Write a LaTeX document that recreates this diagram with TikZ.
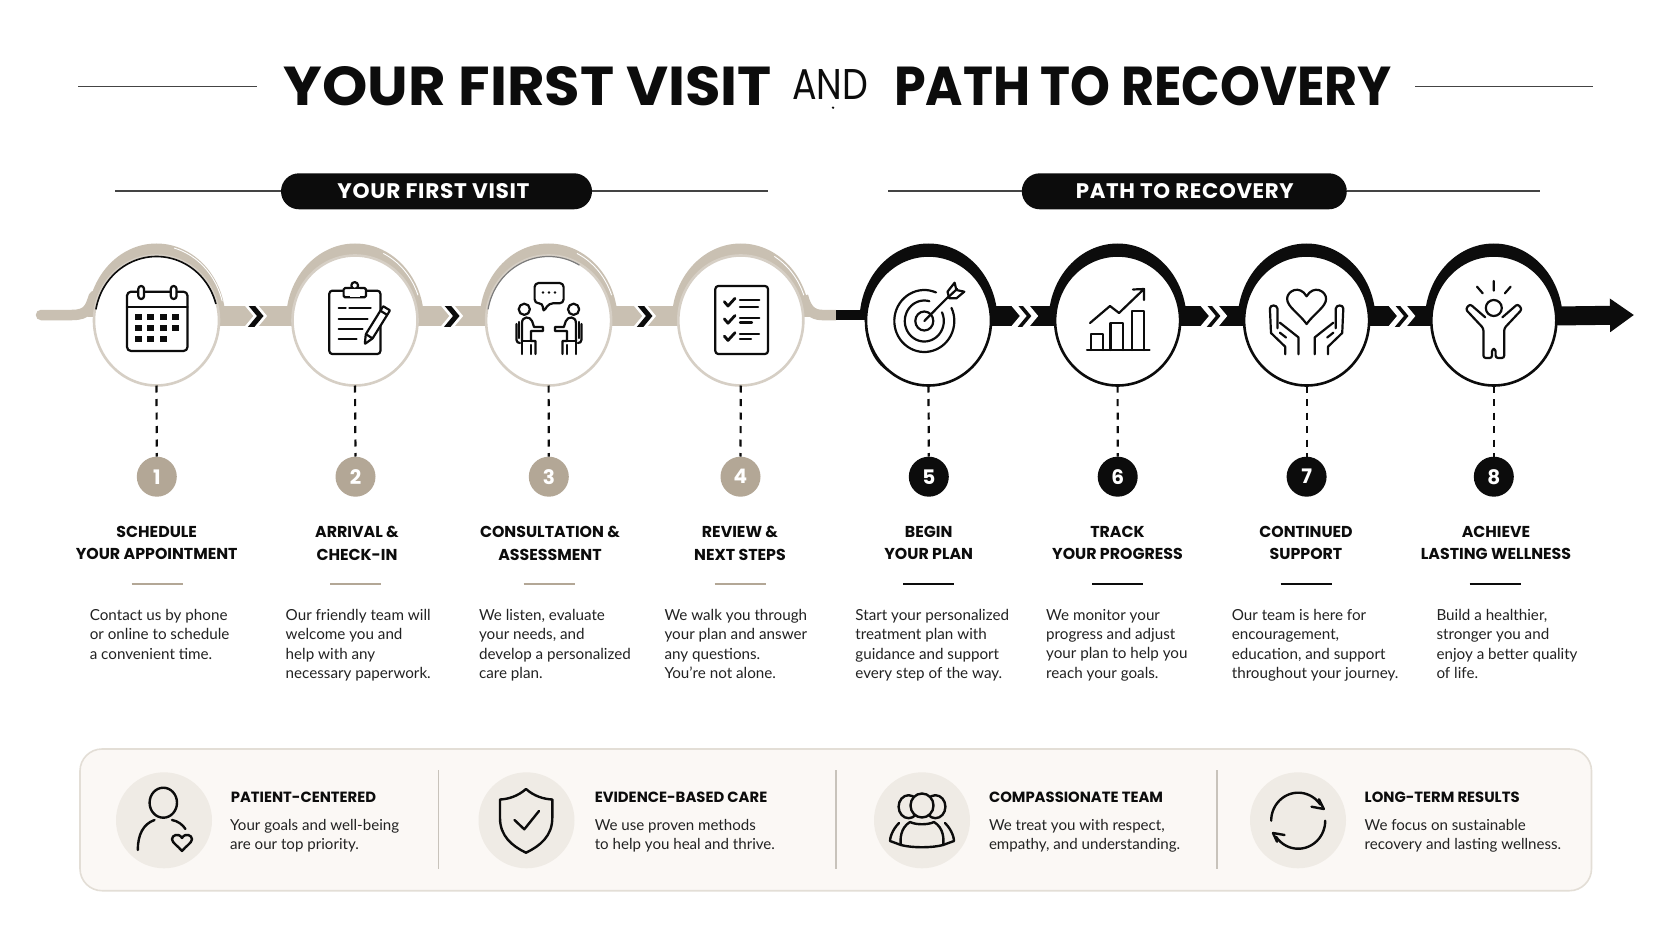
\documentclass[tikz,border=0pt]{standalone}
\usepackage{fontspec}
\usepackage{graphicx}
\setmainfont{Lato}
\newfontfamily\hd{Poppins}
\newfontfamily\hdp{Poppins}[LetterSpace=3]
\usetikzlibrary{shapes.geometric,calc,backgrounds,arrows.meta}
\definecolor{band}{HTML}{C9C0B2}
\definecolor{ring}{HTML}{D6CFC5}
\definecolor{numb}{HTML}{B3A796}
\definecolor{ink}{HTML}{0C0C0C}
\definecolor{txt}{HTML}{222222}
\definecolor{cream}{HTML}{FBF8F5}
\definecolor{creamedge}{HTML}{E3DED6}
\definecolor{icbg}{HTML}{EFEBE5}
\definecolor{divd}{HTML}{C8C3BB}
\definecolor{rule}{HTML}{444444}
\tikzset{
  x=1pt,y=-1pt,
  stepring/.style={ellipse,draw=#1,fill=white,line width=2.6pt,minimum width=125pt,minimum height=130pt,inner sep=0pt,outer sep=0pt},
  numdot/.style={circle,fill=#1,text=white,minimum size=40pt,inner sep=0pt,font=\hd\bfseries\fontsize{20}{20}\selectfont},
  dotline/.style={draw=ink,line width=2.2pt,dash pattern=on 7pt off 6.5pt},
  headtxt/.style={anchor=north,align=center,text=ink,font=\hd\bfseries\fontsize{15.8}{22.5}\selectfont,inner sep=0pt},
  bodytxt/.style={anchor=north west,align=left,text=txt,font=\fontsize{15.2}{19.3}\selectfont,inner sep=0pt},
  paneltitle/.style={anchor=west,text=ink,font=\hd\bfseries\fontsize{14.8}{16}\selectfont,inner sep=0pt},
  paneltxt/.style={anchor=north west,align=left,text=txt,font=\fontsize{15.1}{19.3}\selectfont,inner sep=0pt},
  icon/.style={draw=ink,line width=2.2pt,line join=round,line cap=round},
  picon/.style={draw=ink,line width=2.4pt,line join=round,line cap=round},
  pill/.style={rounded rectangle,fill=ink,text=white,inner sep=0pt},
  sectline/.style={draw=rule,line width=1.5pt},
  shortrule/.style={line width=2.5pt,draw=#1},
}
\usetikzlibrary{shapes.misc}
\newcommand\eearc[6]{plot[domain=#5:#6,samples=50] ({#1+#3*cos(\x)},{#2+#4*sin(\x)})}
\newcommand\heartat[5]{\draw[#5,shift={(#1,#2)},xscale=#3,yscale=#4]
 (0,.5) .. controls (-.2,.2) and (-.5,.02) .. (-.5,-.2) .. controls (-.5,-.42) and (-.18,-.6) .. (0,-.27)
 .. controls (.18,-.6) and (.5,-.42) .. (.5,-.2) .. controls (.5,.02) and (.2,.2) .. (0,.5) -- cycle;}
% band behind a step ring
\newcommand\bandat[2]{\begin{scope}\clip ($(#1)+(-90,-90)$) rectangle ($(#1)+(90,-4)$);
 \fill[#2] (#1.center) circle[x radius=69pt,y radius=77pt];\end{scope}}
% bar with chevrons between two rings: from, to, colour, white width, inner width, offset
\newcommand\barlink[6]{\draw[#3,line width=20pt] ([yshift=4.5pt]#1.east) -- ([yshift=4.5pt]#2.west);
 \coordinate (m#1) at ($(#1.east)!0.5!(#2.west)$);
 \begin{scope}\clip ($(m#1)+(-30,-14.5)$) rectangle ($(m#1)+(30,5.5)$);
 \draw[white,line width=#4pt,miter limit=6] ($(m#1)+(#6-12.5,-19.5)$) -- ($(m#1)+(#6,-4.5)$) -- ($(m#1)+(#6-12.5,10.5)$);
 \draw[ink,line width=#5pt,miter limit=6] ($(m#1)+(#6-12.5,-19.5)$) -- ($(m#1)+(#6,-4.5)$) -- ($(m#1)+(#6-12.5,10.5)$);
 \end{scope}}
\newcommand\conperson{%
 \draw[icon] (524.3,309.3) circle[radius=5.6pt];
 \draw[icon] (522,341) -- (522,323) .. controls (522,316) and (530,316) .. (532,321) -- (534,327) -- (543,327) -- (543,331) -- (531,331) -- (531,341) -- (535.5,341) -- (535.5,354);
 \draw[icon] (522,341) -- (531,341) (522,341) -- (522,354) (531,345) -- (531,354);
 \draw[icon] (516.5,324) -- (516.5,340) .. controls (516.5,342) and (518,343) .. (520,343);
 \draw[icon] (519,322) -- (519,338);
}
\newcommand\handicon{%
 \draw[icon] (1285.2,354.3) -- (1285.2,346.7) -- (1271,333) -- (1269.9,308.5) .. controls (1270,304.5) and (1277,304.5) .. (1277.4,308.5) -- (1277.4,328.3);
 \draw[icon] (1279.9,322.7) -- (1298.4,337.3) -- (1298.4,354.3);
 \draw[icon] (1279.9,332.7) -- (1286,337.5);
}
\begin{document}
\begin{tikzpicture}
\useasboundingbox (0,0) rectangle (1672,941);
% ---- nodes
\node[stepring=ring] (c1) at (156.5,320.5) {};
\node[stepring=ring] (c2) at (355,320.5) {};
\node[stepring=ring] (c3) at (548.6,320.5) {};
\node[stepring=ring] (c4) at (740.8,320.5) {};
\node[stepring=ink] (c5) at (928.5,320.5) {};
\node[stepring=ink] (c6) at (1117.6,320.5) {};
\node[stepring=ink] (c7) at (1306.6,320.5) {};
\node[stepring=ink] (c8) at (1493.8,320.5) {};
\node[numdot=numb] (n1) at (156.8,476.7) {1};
\node[numdot=numb] (n2) at (355.5,476.7) {2};
\node[numdot=numb] (n3) at (548.8,476.7) {3};
\node[numdot=numb] (n4) at (740.5,476.7) {4};
\node[numdot=ink] (n5) at (928.8,476.7) {5};
\node[numdot=ink] (n6) at (1117.7,476.7) {6};
\node[numdot=ink] (n7) at (1306.6,476.7) {7};
\node[numdot=ink] (n8) at (1493.8,476.7) {8};
\foreach \i in {1,...,8} \draw[dotline] (c\i.south) -- (n\i.north);
% ---- connectors behind the rings
\begin{scope}[on background layer]
\fill[white] (0,0) rectangle (1672,941);
\coordinate (tailA) at (41,315);
\coordinate (tailB) at (94,296);
\coordinate (joinA) at (803,296);
\coordinate (joinB) at (836,315);
\coordinate (tip) at (1634,315);
\draw[band,line width=10.5pt,line cap=round] (tailA) -- (72,315) .. controls (88,315) and (90,308) .. (tailB);
\draw[band,line width=10.5pt] (joinA) .. controls (806,309) and (812,315) .. (822,315) -- (joinB);
\draw[ink,line width=10.5pt] (joinB) -- (c5.west |- joinB);
\foreach \i in {1,2,3,4} {\bandat{c\i}{band}}
\foreach \i in {5,6,7,8} {\bandat{c\i}{ink}}
\fill[ink] (865,315) .. controls (864,340) and (872,362) .. (889,372) -- (900,360) -- (880,315) -- cycle;
\barlink{c1}{c2}{band}{10.5}{5}{4.5}
\barlink{c2}{c3}{band}{10.5}{5}{4.5}
\barlink{c3}{c4}{band}{10.5}{5}{4.5}
\barlink{c5}{c6}{ink}{14}{3.5}{6}
\barlink{c6}{c7}{ink}{14}{3.5}{6}
\barlink{c7}{c8}{ink}{14}{3.5}{6}
\draw[ink,line width=19pt,-{Triangle[length=24pt,width=32pt]}] ([yshift=4.5pt]c8.east) -- (tip);
% sketch streaks
\draw[white,line width=.9pt] \eearc{156.5}{320.5}{68}{75}{285}{345};
\draw[white,line width=.9pt] \eearc{355}{320.5}{67}{74}{295}{340};
\draw[white,line width=.9pt] \eearc{548.6}{320.5}{67}{74}{295}{340};
\draw[white,line width=.9pt] \eearc{740.8}{320.5}{67}{74}{300}{340};
\end{scope}
\draw[ink,line width=1.6pt] \eearc{156.5}{320.5}{61.5}{64}{190}{345};
\draw[rule!70,line width=1.2pt] \eearc{548.6}{320.5}{61.5}{64}{190}{300};
% ---- title
\draw[sectline] (78,86.7) -- (257,86.7);
\draw[sectline] (1415,86.7) -- (1593,86.7);
\node[inner sep=0pt,text=ink] (t1) at (528,86) {\resizebox{488pt}{39pt}{\hd\bfseries YOUR FIRST VISIT}};
\node[inner sep=0pt,text=ink] (t2) at (830,84.5) {\resizebox{76pt}{30pt}{\hd AND}};
\node[inner sep=0pt,text=ink] (t3) at (1143,86) {\resizebox{498pt}{39pt}{\hd\bfseries PATH TO RECOVERY}};
\fill[ink] (833,107.7) circle[radius=1.3pt];
% ---- section pills
\node[pill,minimum width=311pt,minimum height=36pt] (p1) at (436.5,191.3) {\hspace*{-6pt}\raisebox{-1.5pt}{\resizebox{192pt}{15pt}{\hdp\bfseries YOUR FIRST VISIT}}};
\node[pill,minimum width=325pt,minimum height=36pt] (p2) at (1184.3,191.3) {\hspace*{1pt}\raisebox{-1.5pt}{\resizebox{218pt}{15pt}{\hdp\bfseries PATH TO RECOVERY}}};
\coordinate (l1a) at (115,191); \coordinate (l1b) at (768,191);
\coordinate (l2a) at (888,191); \coordinate (l2b) at (1540,191);
\draw[sectline] (l1a) -- (p1.west |- l1a);
\draw[sectline] (p1.east |- l1b) -- (l1b);
\draw[sectline] (l2a) -- (p2.west |- l2a);
\draw[sectline] (p2.east |- l2b) -- (l2b);
% ---- calendar
\draw[icon,rounded corners=4pt] (127,291.7) rectangle (187.5,351);
\draw[icon] (127,306.7) -- (187.5,306.7);
\draw[icon,fill=white,rounded corners=2.8pt] (138.3,286) rectangle (144,299);
\draw[icon,fill=white,rounded corners=2.8pt] (170.8,286) rectangle (176.5,299);
\foreach \x in {138.6,150.7,163.2,175.7} \foreach \y in {316.7,328.3} \fill[ink] (\x-3.4,\y-3) rectangle (\x+3.4,\y+3);
\foreach \x in {138.6,150.7,163.2} \fill[ink] (\x-3.4,339-3) rectangle (\x+3.4,339+3);
% ---- clipboard
\draw[icon,rounded corners=3pt] (329.3,290.7) rectangle (380.4,354);
\draw[icon,fill=white,rounded corners=1.5pt] (343.6,288) rectangle (366,297.3);
\draw[icon,fill=white] (354.7,285.5) circle[radius=3.4pt];
\fill[white] (350,288.8) rectangle (360,296.5);
\draw[icon] (338.6,308.3) -- (345.7,308.3) (349.3,308.3) -- (370.7,308.3) (338.6,319) -- (367.5,319) (338.6,329.3) -- (362.5,329.3) (338.6,339.3) -- (356.5,339.3);
\draw[icon,fill=white,rounded corners=.6pt] (364.8,344) -- (365.8,334.2) -- (383.2,306.2) -- (390,310.4) -- (372.6,338.4) -- cycle;
\draw[icon] (380.5,310.8) -- (387,314.8) (366,334.2) -- (372.4,338.4);
% ---- consultation
\conperson
\begin{scope}[shift={(1097.9,0)},xscale=-1]\conperson\end{scope}
\draw[icon,fill=white,rounded corners=4pt] (534.6,283) -- (563.6,283) -- (563.6,303.3) -- (549,303.3) -- (543,312.5) -- (543,303.3) -- (534.6,303.3) -- cycle;
\foreach \x in {543,549,555} \fill[ink] (\x,292.5) circle[radius=1.4pt];
% ---- checklist
\draw[icon,rounded corners=3pt] (715.3,286) rectangle (768,354);
\foreach \d in {0,17.2,34.4} \draw[ink,line width=2.8pt,line cap=round,line join=round] (724.3,301.7+\d) -- (728,306+\d) -- (735,298.3+\d);
\draw[icon] (740,300) -- (759.3,300) (740,307.3) -- (758,307.3) (740,318.3) -- (759.3,318.3) (740,322.5) -- (752,322.5) (740,334) -- (759,334) (740,339.3) -- (751,339.3);
% ---- target
\draw[icon] \eearc{924.3}{321}{30}{31}{-25}{293};
\draw[icon] \eearc{924.3}{321}{19.5}{20.5}{-25}{285};
\draw[icon] (924.3,321) circle[x radius=9pt,y radius=9.5pt];
\draw[icon] (924.3,321) -- (952,293);
\draw[icon,fill=white] (947.5,291.7) -- (954.6,282.7) -- (956.4,290) -- (964.3,291.7) -- (956.4,298.3) -- (949.3,298.3) -- cycle;
\draw[icon] (949,296.5) -- (957,289);
% ---- chart
\draw[icon] (1087,350) -- (1149.5,350);
\draw[icon] (1091,350) -- (1091,334) -- (1103,334) -- (1103,350);
\draw[icon] (1110.5,350) -- (1110.5,323) -- (1123,323) -- (1123,350);
\draw[icon] (1131.6,350) -- (1131.6,310.7) -- (1144,310.7) -- (1144,350);
\draw[icon] (1090,323) -- (1110,306) -- (1119,313) -- (1144,289) (1133,289.5) -- (1144,289) -- (1144,300);
% ---- hands
\heartat{1306.6}{306}{39}{36}{icon}
\handicon
\begin{scope}[shift={(2613.2,0)},xscale=-1]\handicon\end{scope}
% ---- person with raised arms
\draw[icon] (1493.8,308) circle[radius=8pt];
\draw[icon] (1493.8,281) -- (1493.8,290.7) (1477,286.7) -- (1482.7,293.3) (1510.6,286.7) -- (1504.9,293.3);
\draw[icon,rounded corners=2.4pt] (1485.2,317.3) -- (1469.9,304) -- (1465.6,309.3) -- (1483.4,328.3) -- (1483.4,358) -- (1492,358) -- (1492,349) -- (1495.6,349) -- (1495.6,358) -- (1504.2,358) -- (1504.2,328.3) -- (1522,309.3) -- (1517.7,304) -- (1502.4,317.3);
% ---- step headings
\node[headtxt] (h1) at (156.7,526) {SCHEDULE\\YOUR APPOINTMENT};
\node[headtxt] (h2) at (357,526) {ARRIVAL \&\\CHECK-IN};
\node[headtxt] (h3) at (550,526) {CONSULTATION \&\\ASSESSMENT};
\node[headtxt] (h4) at (740,526) {REVIEW \&\\NEXT STEPS};
\node[headtxt] (h5) at (928.7,526) {BEGIN\\YOUR PLAN};
\node[headtxt] (h6) at (1117.5,526) {TRACK\\YOUR PROGRESS};
\node[headtxt] (h7) at (1306,526) {CONTINUED\\SUPPORT};
\node[headtxt] (h8) at (1496,526) {ACHIEVE\\LASTING WELLNESS};
\foreach \x in {157.2,355.6,549,740} \draw[shortrule=numb] (\x-25.5,584) -- (\x+25.5,584);
\foreach \x in {928.7,1117.5,1306,1495} \draw[shortrule=ink] (\x-25.5,584) -- (\x+25.5,584);
% ---- step bodies
\node[bodytxt] (b1) at (89.6,609) {Contact us by phone\\or online to schedule\\a convenient time.};
\node[bodytxt] (b2) at (285.5,609) {Our friendly team will\\welcome you and\\help with any\\necessary paperwork.};
\node[bodytxt] (b3) at (478.8,609) {We listen, evaluate\\your needs, and\\develop a personalized\\care plan.};
\node[bodytxt] (b4) at (664.3,609) {We walk you through\\your plan and answer\\any questions.\\You’re not alone.};
\node[bodytxt] (b5) at (855.2,609) {Start your personalized\\treatment plan with\\guidance and support\\every step of the way.};
\node[bodytxt] (b6) at (1046,609) {We monitor your\\progress and adjust\\your plan to help you\\reach your goals.};
\node[bodytxt] (b7) at (1231.6,609) {Our team is here for\\encouragement,\\education, and support\\throughout your journey.};
\node[bodytxt] (b8) at (1436.3,609) {Build a healthier,\\stronger you and\\enjoy a better quality\\of life.};
% ---- panel
\draw[creamedge,fill=cream,line width=1.6pt,rounded corners=22pt] (80,749) rectangle (1591.5,890.7);
\foreach \x in {164,526.5,922,1298} \fill[icbg] (\x,820.3) circle[radius=48pt];
\foreach \x in {438.4,836,1217} \draw[divd,line width=1.2pt] (\x,770) -- (\x,869);
\node[paneltitle] (q1) at (230.6,797.5) {PATIENT-CENTERED};
\node[paneltitle] (q2) at (594.6,797.5) {EVIDENCE-BASED CARE};
\node[paneltitle] (q3) at (988.8,797.5) {COMPASSIONATE TEAM};
\node[paneltitle] (q4) at (1364.5,797.5) {LONG-TERM RESULTS};
\node[paneltxt] (r1) at (230,819) {Your goals and well-being\\are our top priority.};
\node[paneltxt] (r2) at (594.6,819) {We use proven methods\\to help you heal and thrive.};
\node[paneltxt] (r3) at (988.8,819) {We treat you with respect,\\empathy, and understanding.};
\node[paneltxt] (r4) at (1364.5,819) {We focus on sustainable\\recovery and lasting wellness.};
% person + heart
\draw[picon] (163.3,802.7) circle[x radius=13.7pt,y radius=15pt];
\draw[picon] (137.8,850) .. controls (137.8,835) and (143,824) .. (154.5,820);
\draw[picon] (172,820) .. controls (178,821) and (183,825) .. (185.4,829);
\heartat{182}{842.5}{20}{17}{picon}
% shield
\draw[picon] (526,789) .. controls (518,796) and (509,799) .. (500,799.5) -- (500,818) .. controls (500,836) and (512,846) .. (526,852.7) .. controls (540,846) and (552.3,836) .. (552.3,818) -- (552.3,799.5) .. controls (543,799) and (534,796) .. (526,789) -- cycle;
\draw[picon] (514.5,820) -- (524.3,829.3) -- (539,811);
% team
\draw[picon] (908.6,806.7) circle[x radius=10pt,y radius=11.5pt];
\draw[picon] (935.4,806.7) circle[x radius=10pt,y radius=11.5pt];
\draw[picon,fill=icbg] (922,805.5) circle[x radius=11.5pt,y radius=12pt];
\draw[picon] (910,822) .. controls (900,828) and (900,840) .. (901,845) .. controls (912,848) and (932,848) .. (943,845) .. controls (944,840) and (944,828) .. (934,822) .. controls (928,825) and (916,825) .. (910,822);
\draw[picon] (899,823) .. controls (892,830) and (890,838) .. (890,841) -- (901,845);
\draw[picon] (945,823) .. controls (952,830) and (954,838) .. (954,841) -- (943,845);
% refresh
\draw[picon] \eearc{1298.2}{820.7}{27}{28}{180}{325};
\draw[picon] (1311.5,806.7) -- (1323.8,809) -- (1319,799.3);
\draw[picon] \eearc{1298.2}{820.7}{27}{28}{0}{145};
\draw[picon] (1284.5,835) -- (1273,833) -- (1277,841.7);
\end{tikzpicture}
\end{document}
